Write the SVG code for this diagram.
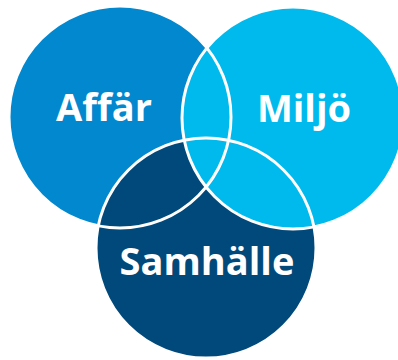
<svg xmlns="http://www.w3.org/2000/svg" width="398" height="360" viewBox="0 0 398 360">
<style>
.o{fill:none;stroke:#ffffff;stroke-width:3}
.t{font-family:"Open Sans","Noto Sans",sans-serif;font-weight:700;font-size:38px;fill:#ffffff;text-anchor:middle}
</style>
<rect width="398" height="360" fill="#ffffff"/>
<g id="affar">
<circle cx="120" cy="117" r="111" fill="#0288CF"/>
</g>
<g id="samhalle">
<circle cx="206" cy="248" r="110" fill="#00497A"/>
</g>
<g id="miljo">
<circle cx="293" cy="118" r="111" fill="#00BAEE"/>
</g>
<g id="outlines">
<circle class="o" cx="120" cy="117" r="111"/>
<circle class="o" cx="206" cy="248" r="110"/>
<circle class="o" cx="293" cy="118" r="111"/>
</g>
<g id="labels">
<text class="t" x="104" y="121">Affär</text>
<text class="t" x="304" y="122">Miljö</text>
<text class="t" x="207" y="275">Samhälle</text>
</g>
</svg>
